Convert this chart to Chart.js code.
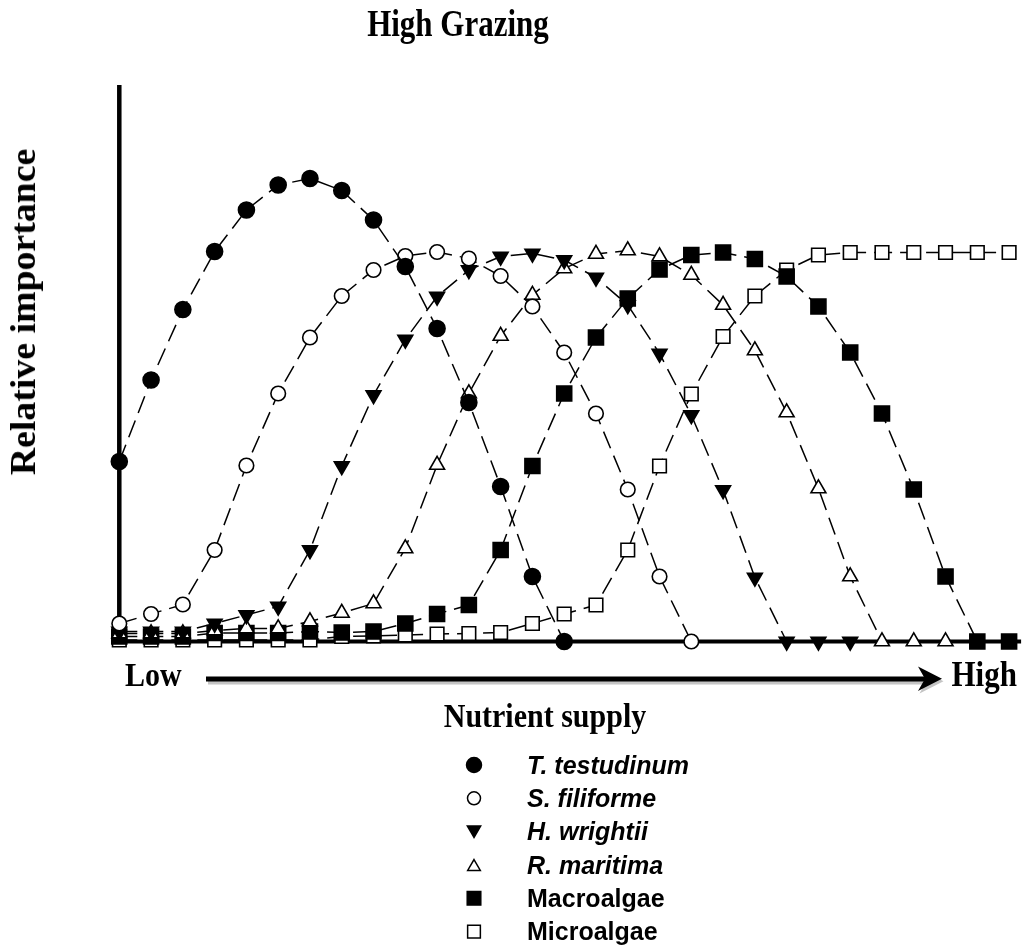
<!DOCTYPE html>
<html>
<head>
<meta charset="utf-8">
<script src="https://cdn.jsdelivr.net/npm/chart.js@4.4.1/dist/chart.umd.min.js"></script>
<style>
html,body{margin:0;padding:0;background:#fff;}
#wrap{position:relative;width:1026px;height:952px;overflow:hidden;background:#fff;}
#c{position:absolute;left:0;top:0;}
.t{position:absolute;white-space:nowrap;line-height:1;color:#000;}
.serif{font-family:'Liberation Serif','Times New Roman',serif;font-weight:bold;}
.sans{font-family:'Liberation Sans',Arial,sans-serif;font-weight:bold;}
</style>
</head>
<body>
<div id="wrap">
  <canvas id="c" width="1026" height="952"></canvas>
  <div class="t serif" id="title" style="font-size:31px;left:258px;width:400px;text-align:center;top:10px;transform:scaleY(1.2);transform-origin:50% 83.75%;">High Grazing</div>
  <div class="t serif" id="ylab" style="font-size:36px;left:22.9px;top:311.5px;transform:translate(-50%,-50%) rotate(-90deg) scaleX(1.05);">Relative importance</div>
  <div class="t serif" id="low" style="font-size:30px;left:125px;top:661px;transform:scaleY(1.14);transform-origin:0 83.75%;">Low</div>
  <div class="t serif" id="high" style="font-size:31px;left:951.5px;top:660px;transform:scaleY(1.14);transform-origin:0 83.75%;">High</div>
  <div class="t serif" id="xlab" style="font-size:30px;left:345px;width:400px;text-align:center;top:702px;transform:scaleY(1.15);transform-origin:50% 83.75%;">Nutrient supply</div>
  <div id="legend"></div>
</div>
<script>
// ---- data (arbitrary "relative importance" units) ----
const supplyLevels = [0,1,2,3,4,5,6,7,8,9,10,11,12,13,14,15,16,17,18,19,20,21,22,23,24,25,26,27,28];
const seriesNames = ['T. testudinum','S. filiforme','H. wrightii','R. maritima','Macroalgae','Microalgae'];
const tTestudinum = [180,261.5,332,390,431.5,456.5,463,451,421.5,375,313,239,155,65,0,null,null,null,null,null,null,null,null,null,null,null,null,null,null];
const sFiliforme  = [18,27.5,37,91.5,176,248,304,345.5,371.5,385.5,389.5,383,365.5,335,289,228,152,65,0,null,null,null,null,null,null,null,null,null,null];
const hWrightii   = [10,10,10,18,26.5,35,91.5,175.5,246.5,302,345,371.5,385,388,381.5,364,336.5,288,226.5,151.5,64,0,0,0,null,null,null,null,null];
const rMaritima   = [8,8,8,11,13,13,20,28.5,38,93,176.5,248,305.5,346.5,373,387.5,391,385,366.5,336.5,291,229,153,65,0,0,0,null,null];
const macroalgae  = [5,5,5,8.5,8.5,8.5,10,9,10,18,27.5,36.5,91.5,175.5,248,304,343,372,386.5,389,382.5,365,335,289,228,152,65,0,0];
const microalgae  = [1.5,1.5,1.5,1.5,1.5,1.5,1.5,5,5.5,6.5,7.5,8,9,18,27.5,36.5,91.5,175.5,247.5,305,345.5,371.5,386.5,389,389,389,389,389,389];
const seriesValues = [tTestudinum,sFiliforme,hWrightii,rMaritima,macroalgae,microalgae];

// ---- styles ----
const markerStyles = [
  {pointStyle:'circle',   radius:8,    fill:'#000', rot:0,   legendRadius:7.5, italic:true},
  {pointStyle:'circle',   radius:7.3,  fill:'#fff', rot:0,   legendRadius:6.5, italic:true},
  {pointStyle:'triangle', radius:8.6,  fill:'#000', rot:180, legendRadius:7.7, italic:true},
  {pointStyle:'triangle', radius:8.6,  fill:'#fff', rot:0,   legendRadius:7.3, italic:true},
  {pointStyle:'rect',     radius:10.6, fill:'#000', rot:0,   legendRadius:9.6, italic:false},
  {pointStyle:'rect',     radius:9.6,  fill:'#fff', rot:0,   legendRadius:9.0, italic:false}
];
const legendX = 474, legendTextX = 527, legendFont = 25;
const legendRows = [765, 798.3, 831.7, 865, 898.3, 931.6];

const datasets = seriesValues.map((vals, i) => {
  const s = markerStyles[i];
  return {
    label: seriesNames[i],
    data: vals,
    borderColor: '#000',
    borderWidth: 1.5,
    borderDash: [18, 8],
    fill: false,
    tension: 0,
    spanGaps: false,
    clip: false,
    pointStyle: s.pointStyle,
    pointRadius: s.radius,
    pointHoverRadius: s.radius,
    pointRotation: s.rot,
    pointBackgroundColor: s.fill,
    pointBorderColor: '#000',
    pointBorderWidth: 1.6,
    pointHoverBorderWidth: 1.6
  };
});

const decor = {
  id: 'decor',
  beforeDatasetsDraw(chart) {
    const ctx = chart.ctx, xs = chart.scales.x, ys = chart.scales.y;
    const x0 = xs.getPixelForValue(supplyLevels[0]);
    const xN = xs.getPixelForValue(supplyLevels[supplyLevels.length - 1]);
    const yb = ys.getPixelForValue(0), yt = ys.getPixelForValue(ys.max);
    ctx.save();
    ctx.strokeStyle = '#000';
    ctx.lineWidth = 4.5;
    ctx.beginPath(); ctx.moveTo(x0, yt); ctx.lineTo(x0, yb + 2); ctx.stroke();
    ctx.lineWidth = 4;
    ctx.beginPath(); ctx.moveTo(x0 - 2, yb); ctx.lineTo(xN + 12, yb); ctx.stroke();
    ctx.restore();
  },
  afterDraw(chart) {
    const ctx = chart.ctx;
    ctx.save();
    const head = (dx, dy) => {
      ctx.beginPath();
      ctx.moveTo(918 + dx, 666.5 + dy);
      ctx.lineTo(942 + dx, 678.8 + dy);
      ctx.lineTo(918 + dx, 691 + dy);
      ctx.lineTo(925 + dx, 678.8 + dy);
      ctx.closePath();
      ctx.fill();
    };
    ctx.fillStyle = '#c4c4c4';
    ctx.fillRect(208, 680, 718, 4.5);
    head(1.5, 2.5);
    ctx.fillStyle = '#000';
    ctx.fillRect(206, 676.5, 720, 5);
    head(0, 0);
    markerStyles.forEach((s, i) => {
      let y = legendRows[i];
      if (s.pointStyle === 'triangle') y += (s.rot === 180 ? -1 : 1) * s.legendRadius / 4;
      ctx.fillStyle = s.fill;
      ctx.strokeStyle = '#000';
      ctx.lineWidth = 1.5;
      Chart.helpers.drawPoint(ctx, {pointStyle: s.pointStyle, rotation: s.rot, radius: s.legendRadius, borderWidth: 1.5}, legendX, y);
    });
    ctx.restore();
  }
};

new Chart(document.getElementById('c'), {
  type: 'line',
  data: { labels: supplyLevels, datasets },
  options: {
    responsive: false,
    animation: false,
    devicePixelRatio: 1,
    events: [],
    layout: { padding: { left: 119.3, right: 16.9, top: 85, bottom: 310.5 } },
    plugins: { legend: { display: false }, tooltip: { enabled: false }, title: { display: false } },
    scales: {
      x: { type: 'linear', min: 0, max: 28, display: false },
      y: { type: 'linear', min: 0, max: 556.5, display: false }
    }
  },
  plugins: [decor]
});

const legendEl = document.getElementById('legend');
seriesNames.forEach((name, i) => {
  const d = document.createElement('div');
  d.className = 't sans';
  d.textContent = name;
  const fs = legendFont;
  const baseline = legendRows[i] + 0.716 * fs / 2;
  d.style.fontSize = fs + 'px';
  d.style.left = legendTextX + 'px';
  d.style.top = (baseline - 0.8465 * fs) + 'px';
  if (markerStyles[i].italic) d.style.fontStyle = 'italic';
  legendEl.appendChild(d);
});
</script>
</body>
</html>
